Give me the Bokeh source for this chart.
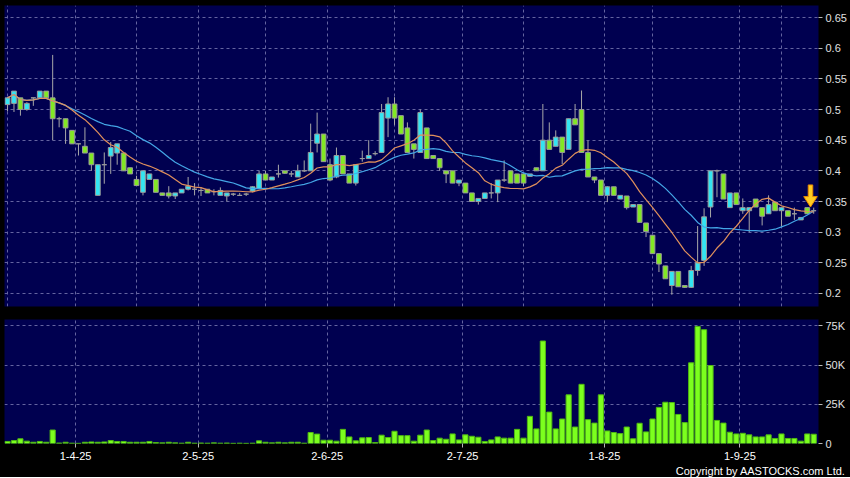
import numpy as np
import pandas as pd
from bokeh.plotting import figure
from bokeh.layouts import column
from bokeh.models import (ColumnDataSource, FixedTicker, Range1d, Title, Grid,
                          CustomJSTickFormatter)
from bokeh.embed import file_html
from bokeh.resources import INLINE

# ---------------- data ----------------
opens = [0.508, 0.510, 0.519, 0.500, 0.519, 0.519, 0.530, 0.519, 0.485, 0.485,
         0.466, 0.444, 0.440, 0.429, 0.360, 0.410, 0.424, 0.429, 0.429, 0.405,
         0.386, 0.365, 0.386, 0.386, 0.364, 0.364, 0.359, 0.364, 0.370, 0.370,
         0.368, 0.370, 0.366, 0.360, 0.359, 0.362, 0.360, 0.362, 0.367, 0.371,
         0.395, 0.385, 0.395, 0.400, 0.395, 0.390, 0.400, 0.400, 0.445, 0.460,
         0.410, 0.390, 0.425, 0.395, 0.380, 0.420, 0.420, 0.428, 0.430, 0.486,
         0.509, 0.490, 0.470, 0.444, 0.430, 0.470, 0.425, 0.420, 0.400, 0.400,
         0.380, 0.380, 0.364, 0.350, 0.355, 0.364, 0.364, 0.385, 0.400, 0.395,
         0.395, 0.391, 0.405, 0.400, 0.450, 0.440, 0.455, 0.435, 0.485, 0.500,
         0.430, 0.390, 0.385, 0.360, 0.374, 0.354, 0.359, 0.341, 0.345, 0.315,
         0.295, 0.265, 0.245, 0.213, 0.236, 0.213, 0.210, 0.2375, 0.254, 0.341,
         0.400, 0.395, 0.340, 0.364, 0.335, 0.335, 0.354, 0.340, 0.330, 0.349,
         0.335, 0.335, 0.330, 0.320, 0.340, 0.335]
highs = [0.520, 0.530, 0.519, 0.512, 0.519, 0.530, 0.530, 0.589, 0.488, 0.485,
         0.466, 0.444, 0.471, 0.429, 0.410, 0.430, 0.447, 0.444, 0.429, 0.405,
         0.392, 0.400, 0.395, 0.386, 0.364, 0.375, 0.364, 0.370, 0.390, 0.380,
         0.373, 0.370, 0.370, 0.373, 0.364, 0.364, 0.364, 0.364, 0.375, 0.400,
         0.400, 0.390, 0.410, 0.400, 0.400, 0.410, 0.417, 0.477, 0.495, 0.460,
         0.420, 0.438, 0.425, 0.395, 0.410, 0.433, 0.450, 0.432, 0.509, 0.520,
         0.520, 0.490, 0.479, 0.444, 0.500, 0.470, 0.425, 0.420, 0.400, 0.400,
         0.385, 0.380, 0.364, 0.355, 0.364, 0.380, 0.385, 0.417, 0.400, 0.395,
         0.395, 0.395, 0.405, 0.509, 0.479, 0.466, 0.455, 0.485, 0.509, 0.531,
         0.449, 0.390, 0.385, 0.375, 0.374, 0.360, 0.359, 0.345, 0.345, 0.315,
         0.295, 0.265, 0.245, 0.236, 0.236, 0.213, 0.245, 0.310, 0.339, 0.400,
         0.402, 0.395, 0.364, 0.364, 0.355, 0.340, 0.354, 0.340, 0.360, 0.349,
         0.340, 0.335, 0.340, 0.324, 0.340, 0.340]
lows = [0.497, 0.496, 0.490, 0.498, 0.506, 0.519, 0.519, 0.450, 0.471, 0.444,
        0.444, 0.425, 0.429, 0.400, 0.360, 0.379, 0.395, 0.410, 0.400, 0.395,
        0.376, 0.360, 0.386, 0.365, 0.360, 0.355, 0.354, 0.364, 0.368, 0.360,
        0.359, 0.364, 0.360, 0.360, 0.350, 0.359, 0.359, 0.359, 0.365, 0.370,
        0.385, 0.385, 0.389, 0.395, 0.390, 0.390, 0.398, 0.400, 0.430, 0.415,
        0.383, 0.388, 0.395, 0.380, 0.376, 0.415, 0.420, 0.425, 0.430, 0.455,
        0.475, 0.460, 0.430, 0.420, 0.430, 0.420, 0.420, 0.400, 0.380, 0.380,
        0.375, 0.364, 0.350, 0.345, 0.355, 0.355, 0.349, 0.382, 0.380, 0.380,
        0.375, 0.391, 0.400, 0.400, 0.435, 0.440, 0.411, 0.435, 0.475, 0.430,
        0.390, 0.380, 0.360, 0.349, 0.360, 0.354, 0.337, 0.341, 0.316, 0.292,
        0.265, 0.235, 0.224, 0.198, 0.211, 0.209, 0.209, 0.229, 0.245, 0.324,
        0.357, 0.354, 0.340, 0.345, 0.330, 0.300, 0.341, 0.311, 0.330, 0.335,
        0.310, 0.326, 0.320, 0.320, 0.330, 0.330]
closes = [0.519, 0.530, 0.500, 0.510, 0.519, 0.530, 0.519, 0.485, 0.485, 0.470,
          0.444, 0.444, 0.429, 0.410, 0.410, 0.410, 0.438, 0.444, 0.400, 0.395,
          0.376, 0.400, 0.395, 0.365, 0.360, 0.359, 0.364, 0.370, 0.375, 0.370,
          0.368, 0.364, 0.366, 0.368, 0.364, 0.362, 0.360, 0.362, 0.374, 0.395,
          0.385, 0.390, 0.395, 0.396, 0.395, 0.400, 0.400, 0.430, 0.460, 0.415,
          0.385, 0.425, 0.395, 0.380, 0.410, 0.420, 0.425, 0.428, 0.495, 0.509,
          0.486, 0.460, 0.430, 0.435, 0.495, 0.420, 0.420, 0.405, 0.395, 0.380,
          0.385, 0.364, 0.350, 0.355, 0.364, 0.364, 0.385, 0.385, 0.380, 0.380,
          0.380, 0.395, 0.400, 0.450, 0.435, 0.455, 0.430, 0.485, 0.475, 0.430,
          0.390, 0.385, 0.360, 0.374, 0.360, 0.360, 0.340, 0.345, 0.316, 0.301,
          0.265, 0.248, 0.224, 0.236, 0.211, 0.210, 0.2375, 0.250, 0.325, 0.400,
          0.400, 0.354, 0.364, 0.345, 0.340, 0.340, 0.341, 0.326, 0.345, 0.335,
          0.340, 0.326, 0.330, 0.324, 0.330, 0.335]
volume_k = [1.3, 1.9, 3.0, 1.5, 0.8, 1.3, 0.8, 8.6, 0.3, 0.8,
            0.2, 0.1, 0.8, 1.0, 0.8, 1.0, 1.9, 1.3, 1.3, 0.8,
            0.8, 0.8, 1.3, 0.6, 0.4, 0.8, 0.4, 0.2, 0.8, 0.2,
            0.3, 0.2, 0.4, 0.2, 0.3, 0.1, 0.2, 0.1, 0.2, 1.7,
            0.8, 0.4, 0.8, 0.4, 0.8, 0.8, 0.2, 7.0, 6.0, 2.1,
            2.1, 1.5, 9.0, 4.2, 1.7, 3.6, 3.8, 0.6, 5.3, 3.8,
            7.8, 5.0, 5.0, 1.5, 5.3, 8.6, 1.9, 3.4, 2.7, 6.1,
            2.3, 5.5, 4.6, 4.0, 1.3, 2.3, 4.2, 3.4, 3.4, 9.0,
            3.4, 17.3, 9.3, 65.3, 20.0, 9.3, 15.6, 31.0, 10.5, 37.7,
            15.2, 13.0, 31.0, 8.0, 7.0, 6.3, 10.5, 3.0, 12.9, 7.4,
            15.6, 23.0, 26.3, 26.1, 18.5, 13.3, 51.4, 74.6, 72.5, 49.7,
            14.7, 13.0, 7.2, 6.1, 6.5, 5.5, 4.2, 4.2, 5.5, 3.2,
            6.1, 3.2, 3.2, 1.5, 6.1, 5.9]

date_index = [11, 30, 50, 71, 93, 114]
date_labels = ["1-4-25", "2-5-25", "2-6-25", "2-7-25", "1-8-25", "1-9-25"]
price_ticks = [0.2, 0.25, 0.3, 0.35, 0.4, 0.45, 0.5, 0.55, 0.6, 0.65]
volume_ticks = [0, 25000, 50000, 75000]

# ---------------- derived ----------------
n = len(closes)
df = pd.DataFrame(dict(x=np.arange(n), o=opens, h=highs, l=lows, c=closes,
                       v=np.array(volume_k) * 1000.0))
df["top"] = df[["o", "c"]].max(axis=1)
df["bot"] = df[["o", "c"]].min(axis=1)
CYAN, GREEN = "#33e4f2", "#82e824"
df["color"] = np.where(df["c"] > df["o"], CYAN, GREEN)
df["ma10"] = df["c"].rolling(10, min_periods=1).mean()
df["ma20"] = df["c"].rolling(20, min_periods=1).mean()
src = ColumnDataSource(df)

grid_x = [d - 0.45 for d in date_index]

NAVY = "#000050"
GRID = "#6464a0"
FONT = "Liberation Sans"
FW = 814

xr = Range1d(-0.47, n - 0.26)


def style(p):
    p.background_fill_color = NAVY
    p.border_fill_color = "black"
    p.outline_line_color = None
    for g in p.grid:
        g.grid_line_color = GRID
        g.grid_line_dash = "3 3"
        g.grid_line_width = 1


def style_axis(a, color):
    a.axis_line_color = None
    a.major_tick_line_color = "#b8b8b8"
    a.major_tick_out = 4
    a.major_tick_in = 0
    a.minor_tick_line_color = None
    a.major_label_text_font = FONT
    a.major_label_text_font_size = "11px"
    a.major_label_text_color = color


# ---------------- price panel ----------------
p1 = figure(frame_width=FW, frame_height=301, x_range=xr,
            y_range=Range1d(0.1788, 0.6696), output_backend="svg",
            toolbar_location=None, x_axis_location=None,
            y_axis_location="right", min_border_left=4, min_border_right=32,
            min_border_top=5, min_border_bottom=6)
p1.add_layout(Grid(dimension=0, ticker=FixedTicker(ticks=grid_x)))
p1.ygrid.ticker = FixedTicker(ticks=price_ticks)
style(p1)
ya = p1.yaxis[0]
ya.ticker = FixedTicker(ticks=price_ticks)
ya.formatter = CustomJSTickFormatter(code="return String(Math.round(tick*100)/100);")
style_axis(ya, "#e0e0e0")
ya.major_label_standoff = 3

p1.segment(x0="x", y0="l", x1="x", y1="h", source=src,
           line_color="#a8a8a8", line_width=1)
p1.vbar(x="x", width=0.74, top="top", bottom="bot", source=src,
        fill_color="color", line_color="#9a9a9a", line_width=1)
p1.line("x", "ma20", source=src, line_color="#44a6e6", line_width=1.2)
p1.line("x", "ma10", source=src, line_color="#e0905c", line_width=1.2)

# marker arrow above the latest bar
ax = n - 1 - 0.5
tip = max(highs[-2:]) + 0.001
hh, sh, hw, sw = 0.017, 0.019, 1.05, 0.35
arrow_x = [ax, ax + hw, ax + sw, ax + sw, ax - sw, ax - sw, ax - hw]
arrow_y = [tip, tip + hh, tip + hh, tip + hh + sh, tip + hh + sh, tip + hh, tip + hh]
p1.patch(arrow_x, arrow_y, fill_color="#ffcc22", line_color="#e88a00", line_width=1)

# ---------------- volume panel ----------------
p2 = figure(frame_width=FW, frame_height=124, x_range=xr,
            y_range=Range1d(0, 79000), output_backend="svg",
            toolbar_location=None, y_axis_location="right",
            min_border_left=4, min_border_right=32, min_border_top=7,
            min_border_bottom=34)
style(p2)
p2.xgrid.ticker = FixedTicker(ticks=grid_x)
p2.ygrid.ticker = FixedTicker(ticks=volume_ticks)
p2.vbar(x="x", width=0.8, top="v", bottom=0, source=src,
        fill_color="#7cff1e", line_color="#4fb812", line_width=1)

va = p2.yaxis[0]
va.ticker = FixedTicker(ticks=volume_ticks)
va.formatter = CustomJSTickFormatter(
    code="return tick == 0 ? '0' : Math.round(tick/1000) + 'K';")
style_axis(va, "#e0e0e0")
va.major_label_standoff = 3
xa = p2.xaxis[0]
xa.ticker = FixedTicker(ticks=grid_x)
xa.formatter = CustomJSTickFormatter(
    args=dict(pos=grid_x, labels=date_labels),
    code="for (let i = 0; i < pos.length; i++) { if (Math.abs(pos[i] - tick) < 1e-6) return labels[i]; } return '';")
style_axis(xa, "white")
xa.major_label_standoff = 4

p2.add_layout(Title(text="Copyright by AASTOCKS.com Ltd.", align="right",
                    offset=-27, standoff=0, text_color="white",
                    text_font=FONT, text_font_size="11px",
                    text_font_style="normal"), "below")

layout = column(p1, p2, spacing=0, styles={"background-color": "black"})

open("out.html", "w").write(file_html(layout, INLINE))
